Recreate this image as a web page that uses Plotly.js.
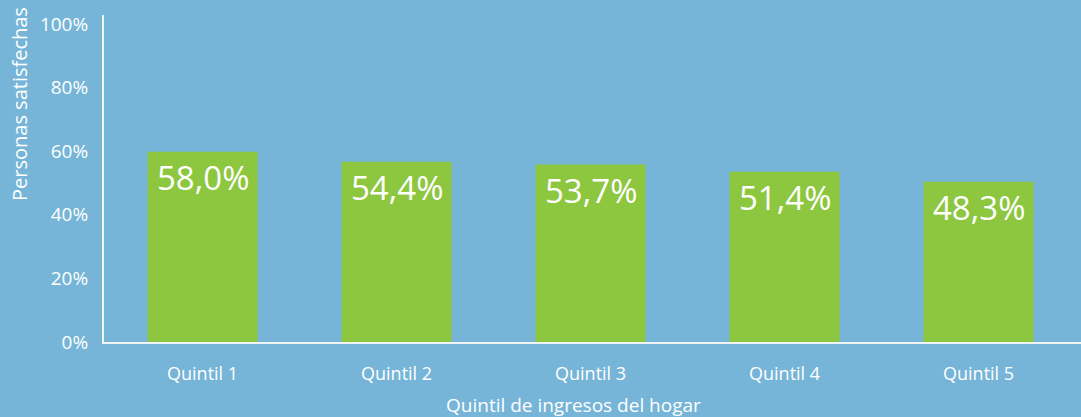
<!DOCTYPE html>
<html>
<head>
<meta charset="utf-8">
<script src="https://cdn.plot.ly/plotly-3.0.1.min.js"></script>
<style>html,body{margin:0;padding:0;background:#76b5d7;}#chart{width:1081px;height:417px;}</style>
</head>
<body>
<div id="chart"></div>
<script>
// Data
const categories = ["Quintil 1", "Quintil 2", "Quintil 3", "Quintil 4", "Quintil 5"];
const barValues = [59.8, 56.7, 55.8, 53.5, 50.4];        // bar heights as drawn (%)
const barLabels = ["58,0%", "54,4%", "53,7%", "51,4%", "48,3%"]; // printed labels
const yTickVals = [0, 20, 40, 60, 80, 100];
const yTickText = ["0%", "20%", "40%", "60%", "80%", "100%"];
const xTitle = "Quintil de ingresos del hogar";
const yTitle = "Personas satisfechas";

const BG = "#76b5d7";
const GREEN = "#8dc63f";
const AXIS = "#eef4f8";
const FONT = "Open Sans, Noto Sans, sans-serif";

const trace = {
  type: "bar",
  x: categories,
  y: barValues,
  marker: {color: GREEN, line: {width: 0}},
  hoverinfo: "none"
};

const labelAnnotations = categories.map((c, i) => ({
  x: c, y: barValues[i], xref: "x", yref: "y",
  text: barLabels[i], showarrow: false,
  xanchor: "center", yanchor: "top", yshift: -1,
  font: {family: FONT, size: 33, color: "#ffffff"}
}));

const layout = {
  width: 1081, height: 417,
  paper_bgcolor: BG, plot_bgcolor: BG,
  margin: {l: 104, r: 0, t: 15, b: 75, pad: 0},
  bargap: 0.433,
  showlegend: false,
  font: {family: FONT, color: "#ffffff", size: 18},
  xaxis: {
    type: "category",
    range: [-0.508, 4.528],
    showline: true, linecolor: AXIS, linewidth: 2,
    showgrid: false, zeroline: false,
    ticks: "", ticklen: 0, ticklabelstandoff: 14,
    tickfont: {family: FONT, size: 18, color: "#ffffff"},
    fixedrange: true
  },
  yaxis: {
    range: [0, 102.8],
    tickvals: yTickVals, ticktext: yTickText,
    showline: true, linecolor: AXIS, linewidth: 2,
    showgrid: false, zeroline: false,
    ticks: "", ticklen: 0, ticklabelstandoff: 10,
    tickfont: {family: FONT, size: 19, color: "#ffffff"},
    fixedrange: true
  },
  annotations: labelAnnotations.concat([
    {xref: "paper", yref: "paper", x: (573 - 104) / 977, y: -(405 - 342) / 327,
     xanchor: "center", yanchor: "middle", showarrow: false,
     text: xTitle, font: {family: FONT, size: 19, color: "#ffffff"}},
    {xref: "paper", yref: "paper", x: -0.087, y: (342 - 104) / 327,
     xanchor: "center", yanchor: "middle", showarrow: false, textangle: -90,
     text: yTitle, font: {family: FONT, size: 20, color: "#ffffff"}}
  ])
};

Plotly.newPlot("chart", [trace], layout, {displayModeBar: false, staticPlot: true});
</script>
</body>
</html>
